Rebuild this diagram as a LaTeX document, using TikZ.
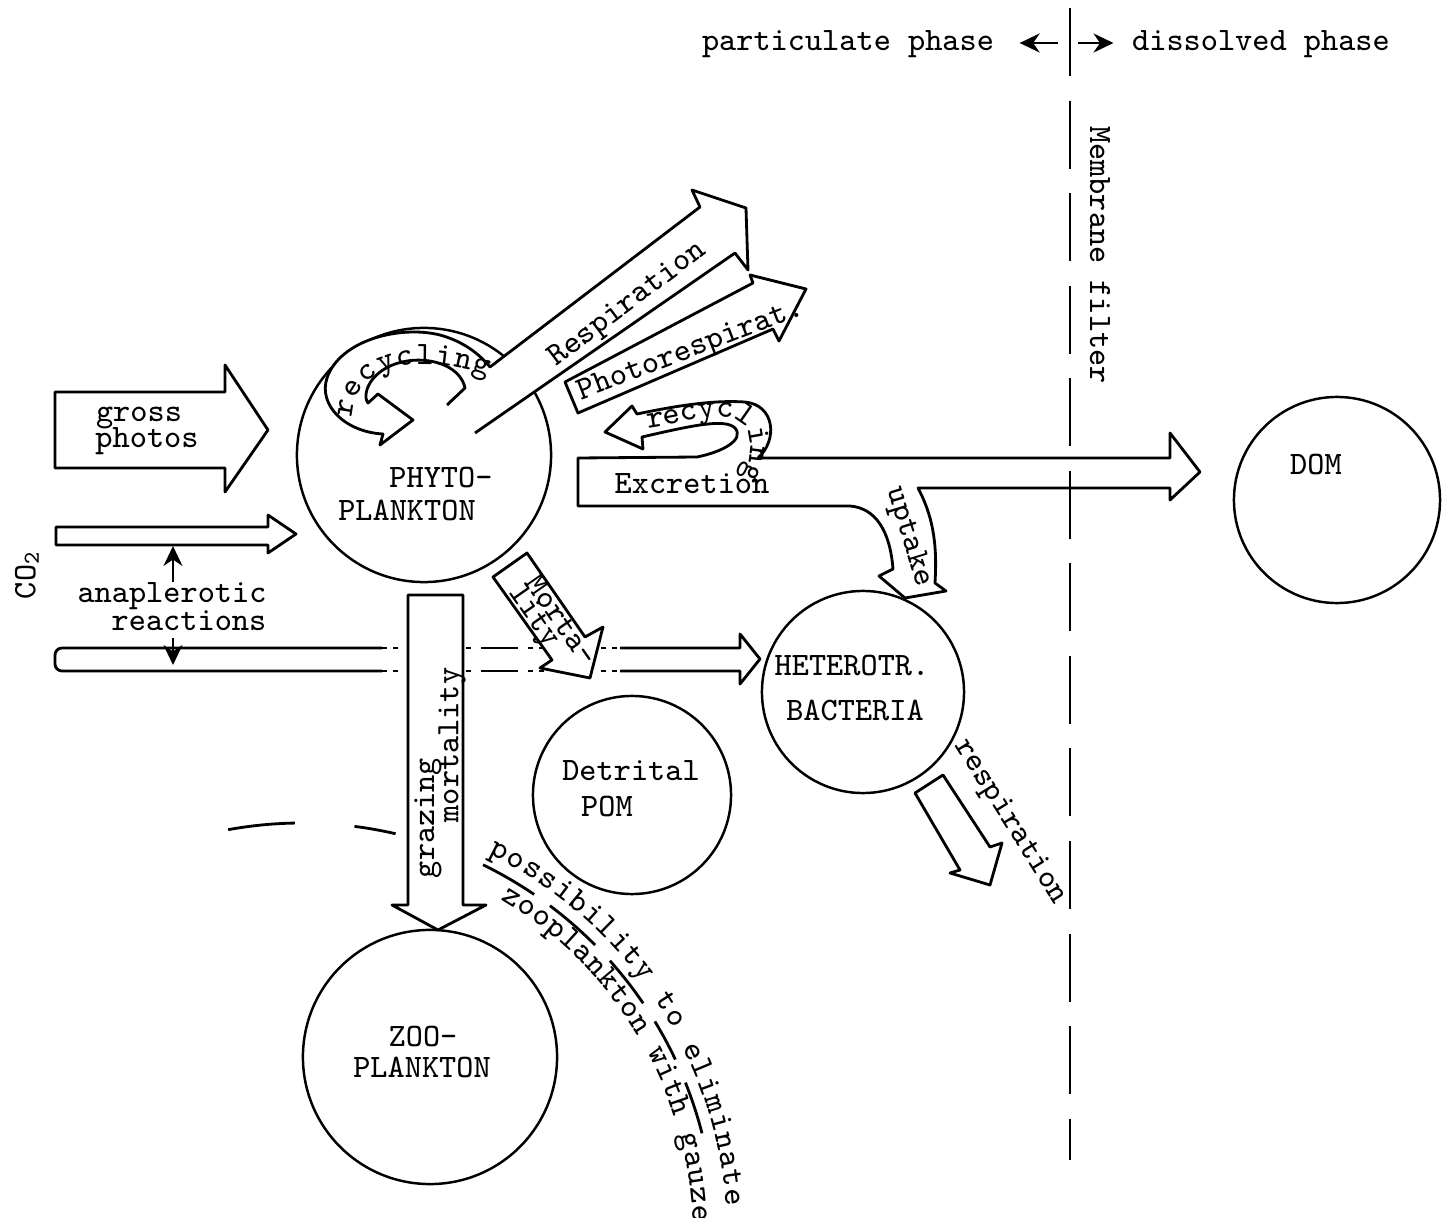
\documentclass[tikz,border=0pt]{standalone}
\usepackage{tikz}
\usetikzlibrary{arrows.meta,decorations.text}

\newcommand{\typewriter}{\fontsize{9.3}{11}\selectfont\ttfamily}

\tikzset{
  outline/.style={line width=0.8pt, line join=round},
  flow/.style={outline, fill=white},
  pool/.style={circle, draw, line width=0.7pt, inner sep=0pt},
  lbl/.style={font=\typewriter, inner sep=0pt},
  tip/.style={-{Stealth[length=2mm,width=1.9mm]}, line width=0.7pt},
  filterline/.style={line width=0.8pt, dash pattern=on 0.68cm off 0.245cm},
  gauzearc/.style={line width=0.8pt},
  halfdots/.style={outline, dash pattern=on 0.05cm off 0.06cm on 0.05cm off 0.1cm on 0.37cm off 0.1cm},
}

\begin{document}
\begin{tikzpicture}[x=0.01cm, y=0.01cm]
    \useasboundingbox (0,0) rectangle (1456,-1218);

    \node[pool, minimum size=2.54cm] (phyto) at (424,-455) {};
    \node[pool, minimum size=2.54cm] (zoo) at (430,-1057) {};
    \node[pool, minimum size=1.98cm] (pom) at (632,-795) {};
    \node[pool, minimum size=2.02cm] (bact) at (863,-692) {};
    \node[pool, minimum size=2.06cm] (dom) at (1337,-500) {};

    \draw[outline, rounded corners=2pt] (382,-648) -- (55,-648) -- (55,-671) -- (382,-671);
    \draw[halfdots] (382,-648) -- (620,-648);
    \draw[halfdots] (382,-671) -- (620,-671);
    \draw[outline] (620,-648) -- (740,-648) -- (740,-634) -- (760,-659) -- (740,-684) -- (740,-671) -- (620,-671);

    \draw[flow] (408,-595) -- (463,-595) -- (463,-905) -- (486,-905) -- (438,-930) -- (392,-905) -- (408,-905) -- cycle;
    \draw[flow] (493,-577) -- (527,-553) -- (585,-637) -- (603,-627) -- (590,-678) -- (540,-668) -- (552,-660) -- cycle;

    \draw[flow] (55,-392) -- (225,-392) -- (225,-365) -- (268,-430) -- (225,-492) -- (225,-468) -- (55,-468) -- cycle;
    \draw[flow] (56,-527) -- (268,-527) -- (268,-515) -- (296,-534) -- (268,-553) -- (268,-545) -- (56,-545) -- cycle;

    \draw[flow] (447,-405) -- (465,-388) .. controls (458,-355) and (395,-350) .. (372,-380)
        .. controls (366,-388) and (364,-398) .. (368,-403) -- (378,-394) -- (413,-420) -- (380,-445) -- (383,-434)
        .. controls (345,-432) and (318,-405) .. (327,-378) .. controls (340,-340) and (400,-325) .. (440,-335)
        .. controls (465,-342) and (480,-355) .. (490,-367) -- (700,-207) -- (692,-190) -- (746,-208)
        -- (748,-270) -- (735,-253) -- (475,-433);
    \draw[flow] (565,-382) -- (753,-283) -- (750,-275) -- (806,-289) -- (779,-341) -- (773,-329) -- (578,-413) -- cycle;

    \draw[flow] (578,-458) -- (697,-457) .. controls (722,-452) and (745,-440) .. (735,-428)
        .. controls (725,-418) and (690,-426) .. (642,-437) -- (643,-449) -- (605,-432) -- (632,-406) -- (637,-414)
        .. controls (680,-405) and (715,-400) .. (745,-402) .. controls (775,-405) and (778,-440) .. (758,-458)
        -- (1170,-458) -- (1170,-433) -- (1200,-472) -- (1170,-500) -- (1170,-488) -- (918,-488)
        .. controls (935,-520) and (937,-550) .. (935,-583) -- (946,-591) -- (905,-598) -- (879,-576) -- (893,-569)
        .. controls (890,-530) and (875,-508) .. (850,-506) -- (578,-506) -- cycle;

    \draw[flow] (915,-793) -- (943,-775) -- (990,-847) -- (1002,-843) -- (990,-885) -- (950,-873) -- (960,-870) -- cycle;

    \coordinate (filtertop) at (1070,-8);
    \coordinate (filterbot) at (1070,-1160);
    \draw[filterline] (filtertop) -- (filterbot);

    \coordinate (gauzectr) at (302,-1236);
    \foreach \a/\b in {100.3/91,82.7/76.9,64/55.8,53.1/44.8,41.8/34.3,31.3/25.3,21.8/14.4}
        \draw[gauzearc] ([shift={(\a:413)}]gauzectr) arc[start angle=\a, end angle=\b, radius=413];
    \path[decorate, decoration={text along path, text={|\typewriter|possibility to eliminate}, text align=fit to path}]
        ([shift={(64:425)}]gauzectr) arc[start angle=64, end angle=4, radius=425];
    \path[decorate, decoration={text along path, text={|\typewriter|zooplankton with gauze}, text align=fit to path}]
        ([shift={(59.5:391)}]gauzectr) arc[start angle=59.5, end angle=2, radius=391];

    \path[decorate, decoration={text along path, text={|\typewriter|recycling}, text align=fit to path}]
        (352,-418) .. controls (352,-370) and (410,-350) .. (488,-376);
    \path[decorate, decoration={text along path, text={|\typewriter|recycling}, text align=left}]
        (648,-428) .. controls (690,-422) and (738,-405) .. (748,-432) .. controls (752,-448) and (750,-462) .. (742,-476);

    \node[lbl, anchor=base] (phytoa) at (441,-488) {PHYTO-};
    \node[lbl, anchor=base] (phytob) at (407,-520) {PLANKTON};
    \node[lbl, anchor=base] (zooa) at (423,-1046) {ZOO-};
    \node[lbl, anchor=base] (zoob) at (422,-1077) {PLANKTON};
    \node[lbl, anchor=base] (poma) at (631,-780) {Detrital};
    \node[lbl, anchor=base] (pomb) at (607,-817) {POM};
    \node[lbl, anchor=base] (bacta) at (852,-675) {HETEROTR.};
    \node[lbl, anchor=base] (bactb) at (855,-720) {BACTERIA};
    \node[lbl, anchor=base] (domlbl) at (1316,-474) {DOM};

    \node[lbl, anchor=base] (grossa) at (139,-422) {gross};
    \node[lbl, anchor=base] (grossb) at (147,-447) {photos};
    \node[lbl, rotate=90] (co2) at (27,-575) {CO\textsubscript{2}};
    \node[lbl, anchor=base] (anapla) at (172,-603) {anaplerotic};
    \node[lbl, anchor=base] (anaplb) at (189,-630) {reactions};
    \coordinate (co2low) at (173,-546);
    \coordinate (lowtop) at (173,-665);
    \draw[tip] (anapla.north -| co2low) -- (co2low);
    \draw[tip] ([yshift=-0.07cm]anaplb.south -| co2low) -- (lowtop);

    \node[lbl, anchor=base] (excr) at (692,-493) {Excretion};
    \node[lbl, rotate=-73] (uptlbl) at (909,-537) {uptake};
    \node[lbl, rotate=37] (resplbl) at (628,-305) {Respiration};
    \node[lbl, rotate=21] (photolbl) at (691,-351) {Photorespirat.};
    \node[lbl, rotate=-55] (mortaa) at (562,-620) {Morta-};
    \node[lbl, rotate=-55] (mortab) at (533,-617) {lity};
    \node[lbl, rotate=90] (grazlbl) at (428,-818) {grazing};
    \node[lbl, rotate=90] (mortlbl) at (452,-745) {mortality};
    \node[lbl, rotate=-58] (bresp) at (1010,-822) {respiration};

    \node[lbl, rotate=-90] (membr) at (1100,-255) {Membrane filter};
    \coordinate (split) at (1068,-43);
    \node[lbl, anchor=base] (partic) at (848,-51) {particulate phase};
    \node[lbl, anchor=base] (dissol) at (1261,-51) {dissolved phase};
    \draw[tip] ([xshift=-0.1cm]split) -- ([xshift=0.25cm]partic.east |- split);
    \draw[tip] ([xshift=0.1cm]split) -- ([xshift=-0.18cm]dissol.west |- split);
\end{tikzpicture}
\end{document}
